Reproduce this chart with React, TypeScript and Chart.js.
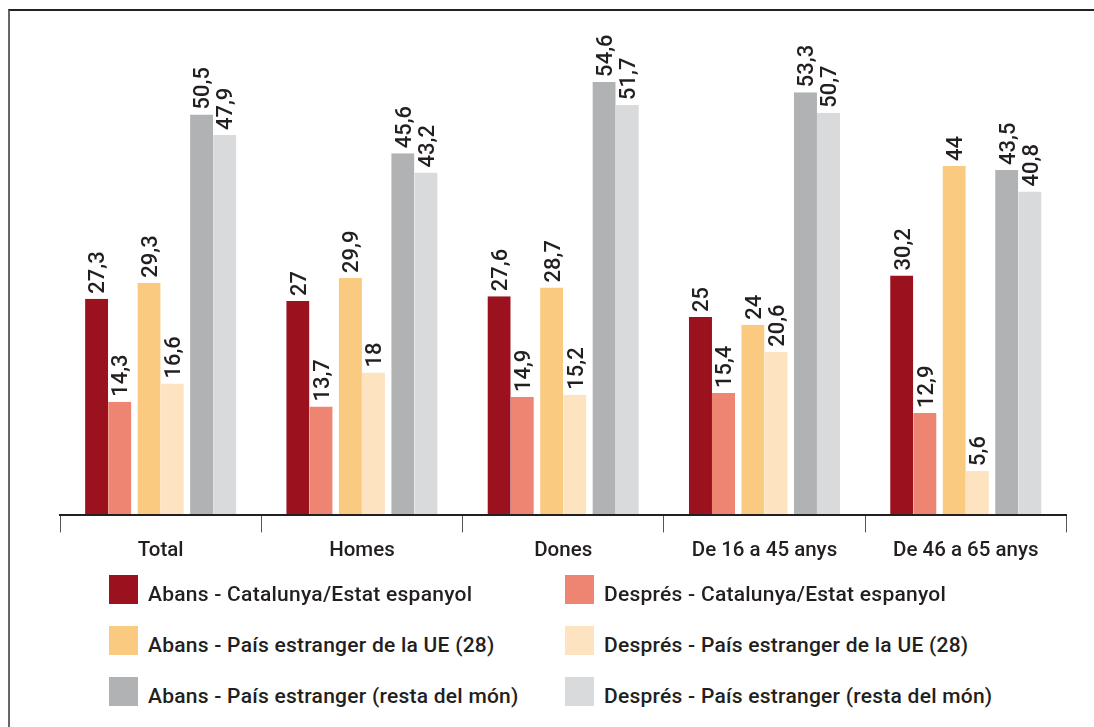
import React, { useEffect, useRef } from "react";
import { Chart, registerables } from "chart.js";

Chart.register(...registerables);

// ---- Data ----
const categories = ["Total", "Homes", "Dones", "De 16 a 45 anys", "De 46 a 65 anys"];

const seriesLabels = [
  "Abans - Catalunya/Estat espanyol",
  "Després - Catalunya/Estat espanyol",
  "Abans - País estranger de la UE (28)",
  "Després - País estranger de la UE (28)",
  "Abans - País estranger (resta del món)",
  "Després - País estranger (resta del món)",
];

const abansCatalunya = [27.3, 27, 27.6, 25, 30.2];
const despresCatalunya = [14.3, 13.7, 14.9, 15.4, 12.9];
const abansUE = [29.3, 29.9, 28.7, 24, 44];
const despresUE = [16.6, 18, 15.2, 20.6, 5.6];
const abansResta = [50.5, 45.6, 54.6, 53.3, 43.5];
const despresResta = [47.9, 43.2, 51.7, 50.7, 40.8];

const seriesValues = [abansCatalunya, despresCatalunya, abansUE, despresUE, abansResta, despresResta];

// ---- Styles ----
const seriesColors = ["#9b111e", "#ee8472", "#f9ca80", "#fde3c0", "#b1b2b4", "#d9dadc"];
const TEXT = "#231f20";
const FONT = "Roboto";
const WEIGHT = 500;
const PAIR_GAP = 6.5; // white gap between pairs, drawn as white bar borders

const fmt = (v: number) => String(v).replace(".", ",");

const valueLabels = {
  id: "valueLabels",
  afterDatasetsDraw(chart: any) {
    const ctx = chart.ctx;
    ctx.save();
    ctx.font = `${WEIGHT} 22px ${FONT}`;
    ctx.fillStyle = TEXT;
    ctx.textAlign = "left";
    ctx.textBaseline = "alphabetic";
    const cap = 0.711 * 22;
    chart.data.datasets.forEach((ds: any, di: number) => {
      const meta = chart.getDatasetMeta(di);
      const shift = di % 2 === 0 ? PAIR_GAP / 4 : -PAIR_GAP / 4;
      meta.data.forEach((bar: any, i: number) => {
        const v = ds.data[i];
        ctx.save();
        ctx.translate(bar.x + shift, bar.y - 5);
        ctx.rotate(-Math.PI / 2);
        ctx.fillText(fmt(v), 0, cap / 2);
        ctx.restore();
      });
    });
    ctx.restore();
  },
};

function BarChart() {
  const ref = useRef<HTMLCanvasElement | null>(null);
  useEffect(() => {
    if (!ref.current) return;
    const chart = new Chart(ref.current, {
      type: "bar",
      data: {
        labels: categories,
        datasets: seriesLabels.map((label, i) => ({
          label,
          data: seriesValues[i],
          backgroundColor: seriesColors[i],
          borderColor: "#ffffff",
          borderWidth:
            i % 2 === 0
              ? { left: PAIR_GAP / 2, right: 0, top: 0, bottom: 0 }
              : { left: 0, right: PAIR_GAP / 2, top: 0, bottom: 0 },
          borderSkipped: false,
          categoryPercentage: 0.7824,
          barPercentage: 1,
        })),
      },
      options: {
        animation: false,
        responsive: false,
        maintainAspectRatio: false,
        layout: { padding: { left: 60, right: 27.6, top: 39, bottom: 8 } },
        plugins: {
          legend: { display: false },
          tooltip: { enabled: false },
        },
        scales: {
          x: {
            grid: {
              offset: true,
              drawOnChartArea: false,
              drawTicks: true,
              tickLength: 17,
              color: "#555555",
              lineWidth: 1,
              z: 1,
            },
            border: { display: true, color: TEXT, width: 2, z: 2 },
            ticks: {
              color: TEXT,
              font: { family: FONT, size: 20.5, weight: WEIGHT },
              padding: 6,
            },
          },
          y: { display: false, min: 0, max: 60 },
        },
      },
      plugins: [valueLabels],
    } as any);
    return () => chart.destroy();
  }, []);
  return (
    <canvas
      ref={ref}
      width={1094}
      height={577}
      style={{ position: "absolute", left: 0, top: 0, width: 1094, height: 577 }}
    />
  );
}

function Legend() {
  const colX = [109, 565];
  const rowY = [575, 626, 677];
  return (
    <>
      {seriesLabels.map((label, i) => {
        const col = i % 2;
        const row = Math.floor(i / 2);
        return (
          <div
            key={label}
            style={{
              position: "absolute",
              left: colX[col],
              top: rowY[row],
              height: 29,
              display: "flex",
              alignItems: "flex-start",
              whiteSpace: "nowrap",
            }}
          >
            <div style={{ width: 29, height: 29, background: seriesColors[i] }} />
            <div
              style={{
                marginLeft: 10,
                fontFamily: FONT,
                fontWeight: WEIGHT,
                fontSize: 21,
                letterSpacing: "0.25px",
                lineHeight: "29px",
                color: TEXT,
                position: "relative",
                top: 5,
              }}
            >
              {label}
            </div>
          </div>
        );
      })}
    </>
  );
}

export default function App() {
  return (
    <div
      style={{
        position: "absolute",
        left: 0,
        top: 0,
        width: 1094,
        height: 727,
        background: "#ffffff",
        overflow: "hidden",
      }}
    >
      <div
        style={{
          position: "absolute",
          left: 8,
          top: 9,
          right: -4,
          bottom: -4,
          borderTop: "2px solid #222222",
          borderLeft: "2px solid #666666",
        }}
      />
      <BarChart />
      <Legend />
    </div>
  );
}
